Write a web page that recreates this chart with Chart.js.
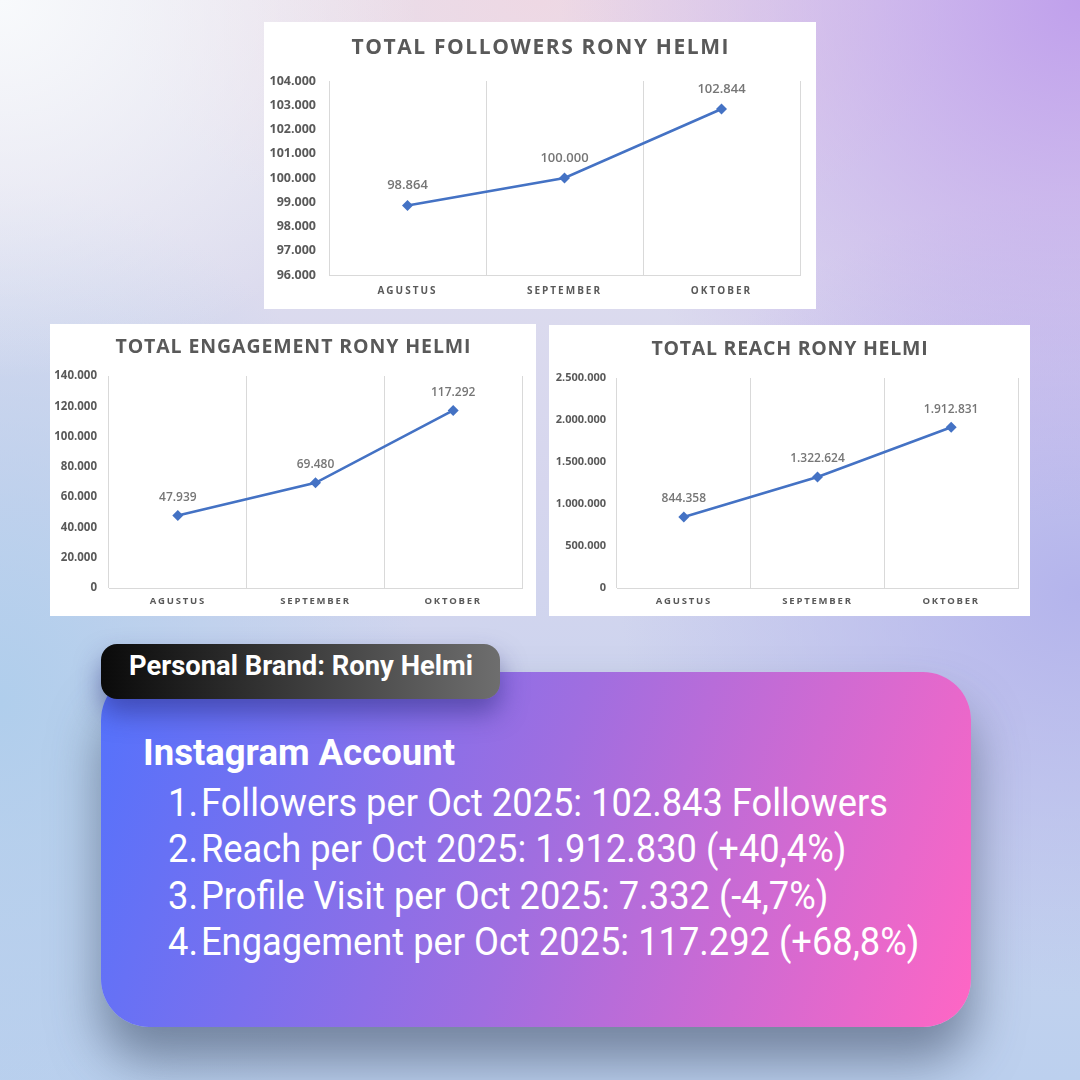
<!DOCTYPE html>
<html><head><meta charset="utf-8">
<script src="https://cdn.jsdelivr.net/npm/chart.js@4.4.1/dist/chart.umd.min.js"></script>
<style>
html,body{margin:0;padding:0;}
body{width:1080px;height:1080px;position:relative;overflow:hidden;font-family:Roboto,"Open Sans",sans-serif;
 background:
  radial-gradient(ellipse 420px 380px at 0% 0%, rgba(248,250,252,1) 0%, rgba(248,250,252,0) 100%),
  radial-gradient(ellipse 520px 520px at 100% 0%, rgba(192,160,236,1) 0%, rgba(192,160,236,0) 100%),
  radial-gradient(ellipse 420px 260px at 50% 0%, rgba(238,216,228,1) 0%, rgba(238,216,228,0) 100%),
  radial-gradient(ellipse 460px 400px at 100% 55%, rgba(180,180,236,1) 0%, rgba(180,180,236,0) 100%),
  radial-gradient(ellipse 420px 520px at 0% 65%, rgba(176,206,236,1) 0%, rgba(176,206,236,0) 100%),
  linear-gradient(180deg, #e4e2ee 0%, #d6d6ee 45%, #bcd0ee 100%);
}
.card{position:absolute;background:#fff;}
.card canvas{display:block;}
.pill{position:absolute;left:101px;top:644px;width:399px;height:55px;border-radius:16px;
 background:linear-gradient(90deg,#0a0a0a 0%,#6e6e6e 100%);z-index:3;
 box-shadow:0 14px 26px rgba(40,40,120,0.5);}
.box{position:absolute;left:101px;top:672px;width:870px;height:355px;border-radius:48px;
 background:linear-gradient(108deg,#5472fc 0%,#a06ee0 50%,#ff66c4 100%);z-index:2;
 box-shadow:0 34px 50px rgba(55,70,95,0.55);}
.t{position:absolute;color:#fff;white-space:nowrap;transform-origin:0 0;line-height:1;z-index:4;}
</style></head><body>
<div class="card" style="left:264px;top:22px;width:552px;height:287px"><canvas id="ch1"></canvas></div>
<div class="card" style="left:50px;top:324px;width:486px;height:292px"><canvas id="ch2"></canvas></div>
<div class="card" style="left:549px;top:325px;width:481px;height:291px"><canvas id="ch3"></canvas></div>

<div class="box"></div>
<div class="pill"></div>
<div class="t" id="pillText" data-w="344" style="left:129px;top:652px;font-size:28px;font-weight:700;">Personal Brand: Rony Helmi</div>
<div class="t" id="head" data-w="312" style="left:143px;top:735px;font-size:36px;font-weight:700;">Instagram Account</div>

<div class="t num" style="left:168px;top:784px;font-size:38px;">1.</div>
<div class="t li" data-w="687" style="left:201px;top:784px;font-size:38px;">Followers per Oct 2025: 102.843 Followers</div>
<div class="t num" style="left:168px;top:830px;font-size:38px;">2.</div>
<div class="t li" style="left:201px;top:830px;font-size:38px;">Reach per Oct 2025: 1.912.830 (+40,4%)</div>
<div class="t num" style="left:168px;top:877px;font-size:38px;">3.</div>
<div class="t li" style="left:201px;top:877px;font-size:38px;">Profile Visit per Oct 2025: 7.332 (-4,7%)</div>
<div class="t num" style="left:168px;top:923px;font-size:38px;">4.</div>
<div class="t li" style="left:201px;top:923px;font-size:38px;">Engagement per Oct 2025: 117.292 (+68,8%)</div>

<script>
// ---- data ----
const months = ['AGUSTUS', 'SEPTEMBER', 'OKTOBER'];
const followers = [98864, 100000, 102844];
const engagement = [47939, 69480, 117292];
const reach = [844358, 1322624, 1912831];
const followersAxis = [96000, 104000, 1000];   // min, max, step
const engagementAxis = [0, 140000, 20000];
const reachAxis = [0, 2500000, 500000];

const fmt = n => String(n).replace(/\B(?=(\d{3})+(?!\d))/g, '.');
const GRAY = '#595959';
const FONT = '"Open Sans", sans-serif';

function wrapSpacing(obj, fn, ctx, sp, dx) {
  if (!obj || obj['_w_' + fn]) return;
  const orig = obj[fn].bind(obj);
  obj[fn] = function (...a) {
    ctx.save(); ctx.letterSpacing = sp;
    if (dx) ctx.translate(dx, 0);
    orig(...a); ctx.restore();
  };
  obj['_w_' + fn] = true;
}
const spacingPlugin = {
  id: 'spacing',
  beforeDraw(chart, args, opts) {
    const ctx = chart.ctx;
    wrapSpacing(chart.scales.x, 'drawLabels', ctx, opts.x, 0);
    wrapSpacing(chart.scales.y, 'drawLabels', ctx, '0px', 0);
    wrapSpacing(chart.titleBlock, 'draw', ctx, opts.title, opts.titleShift);
  }
};
const valueLabels = {
  id: 'valueLabels',
  afterDatasetsDraw(chart, args, opts) {
    const ctx = chart.ctx;
    const meta = chart.getDatasetMeta(0);
    const vals = chart.data.datasets[0].data;
    ctx.save();
    ctx.font = opts.font;
    ctx.fillStyle = opts.color;
    ctx.textAlign = 'center';
    ctx.textBaseline = 'middle';
    meta.data.forEach((pt, i) => ctx.fillText(fmt(vals[i]), pt.x, pt.y - opts.offset));
    ctx.restore();
  }
};

function makeChart(id, title, values, axis, g) {
  const H = g.H;
  return new Chart(document.getElementById(id), {
    type: 'line',
    data: {
      labels: months,
      datasets: [{
        data: values,
        borderColor: '#4472c4',
        backgroundColor: '#4472c4',
        borderWidth: 2.6,
        pointStyle: 'rectRot',
        pointRadius: 5.5,
        pointBorderWidth: 0,
        tension: 0
      }]
    },
    options: {
      responsive: true,
      maintainAspectRatio: false,
      animation: false,
      events: [],
      layout: { padding: { left: 0, right: g.right, top: 0, bottom: 0 } },
      plugins: {
        legend: { display: false },
        tooltip: { enabled: false },
        title: {
          display: true,
          text: title,
          color: GRAY,
          font: { family: FONT, size: g.ts, weight: '700', lineHeight: 1.2 },
          padding: { top: g.tc - g.ts * 0.6, bottom: g.top - (g.tc + g.ts * 0.6) }
        },
        spacing: { x: g.xsp + 'px', title: g.tsp + 'px', titleShift: g.right / 2 + g.tsp / 2 },
        valueLabels: { font: '600 ' + g.vs + 'px ' + FONT, color: '#767676', offset: g.voff }
      },
      scales: {
        x: {
          offset: true,
          grid: { display: true, offset: true, color: '#d9d9d9', lineWidth: 1, drawTicks: false },
          border: { display: true, color: '#d9d9d9', width: 1 },
          ticks: { color: GRAY, font: { family: FONT, size: g.xs, weight: '700' }, padding: g.xpad, maxRotation: 0, autoSkip: false },
          afterFit: s => { s.height = H - g.bottom; }
        },
        y: {
          min: axis[0], max: axis[1],
          grid: { display: false, drawTicks: false },
          border: { display: false },
          ticks: { stepSize: axis[2], color: GRAY, font: { family: FONT, size: g.ys, weight: '700' }, padding: g.ypad, callback: v => fmt(v) },
          afterFit: s => { s.width = g.left; }
        }
      }
    },
    plugins: [spacingPlugin, valueLabels]
  });
}

makeChart('ch1', 'TOTAL FOLLOWERS RONY HELMI', followers, followersAxis,
  { H: 287, left: 65, right: 16, top: 59, bottom: 253, tc: 26, ts: 21, tsp: 1.6, xs: 10, xsp: 2, xpad: 10, ys: 12.5, ypad: 13, vs: 13, voff: 20 });
makeChart('ch2', 'TOTAL ENGAGEMENT RONY HELMI', engagement, engagementAxis,
  { H: 292, left: 59, right: 14, top: 52, bottom: 264, tc: 23, ts: 19.5, tsp: 0.9, xs: 9.5, xsp: 1.8, xpad: 8, ys: 11.5, ypad: 12, vs: 12, voff: 18 });
makeChart('ch3', 'TOTAL REACH RONY HELMI', reach, reachAxis,
  { H: 291, left: 68, right: 12, top: 53, bottom: 263, tc: 24, ts: 19.5, tsp: 0.75, xs: 9.5, xsp: 1.8, xpad: 8, ys: 11, ypad: 11, vs: 12, voff: 18 });

// fit text widths to the reference (condensed font look)
(function fit() {
  const pill = document.getElementById('pillText');
  const head = document.getElementById('head');
  [pill, head].forEach(el => {
    const w = el.getBoundingClientRect().width;
    el.style.transform = 'scaleX(' + (parseFloat(el.dataset.w) / w) + ')';
  });
  const lis = document.querySelectorAll('.li');
  const w0 = lis[0].getBoundingClientRect().width;
  const k = parseFloat(lis[0].dataset.w) / w0;
  lis.forEach(el => { el.style.transform = 'scaleX(' + k + ')'; });
  document.querySelectorAll('.num').forEach(el => { el.style.transform = 'scaleX(' + k + ')'; });
})();
</script>
</body></html>
